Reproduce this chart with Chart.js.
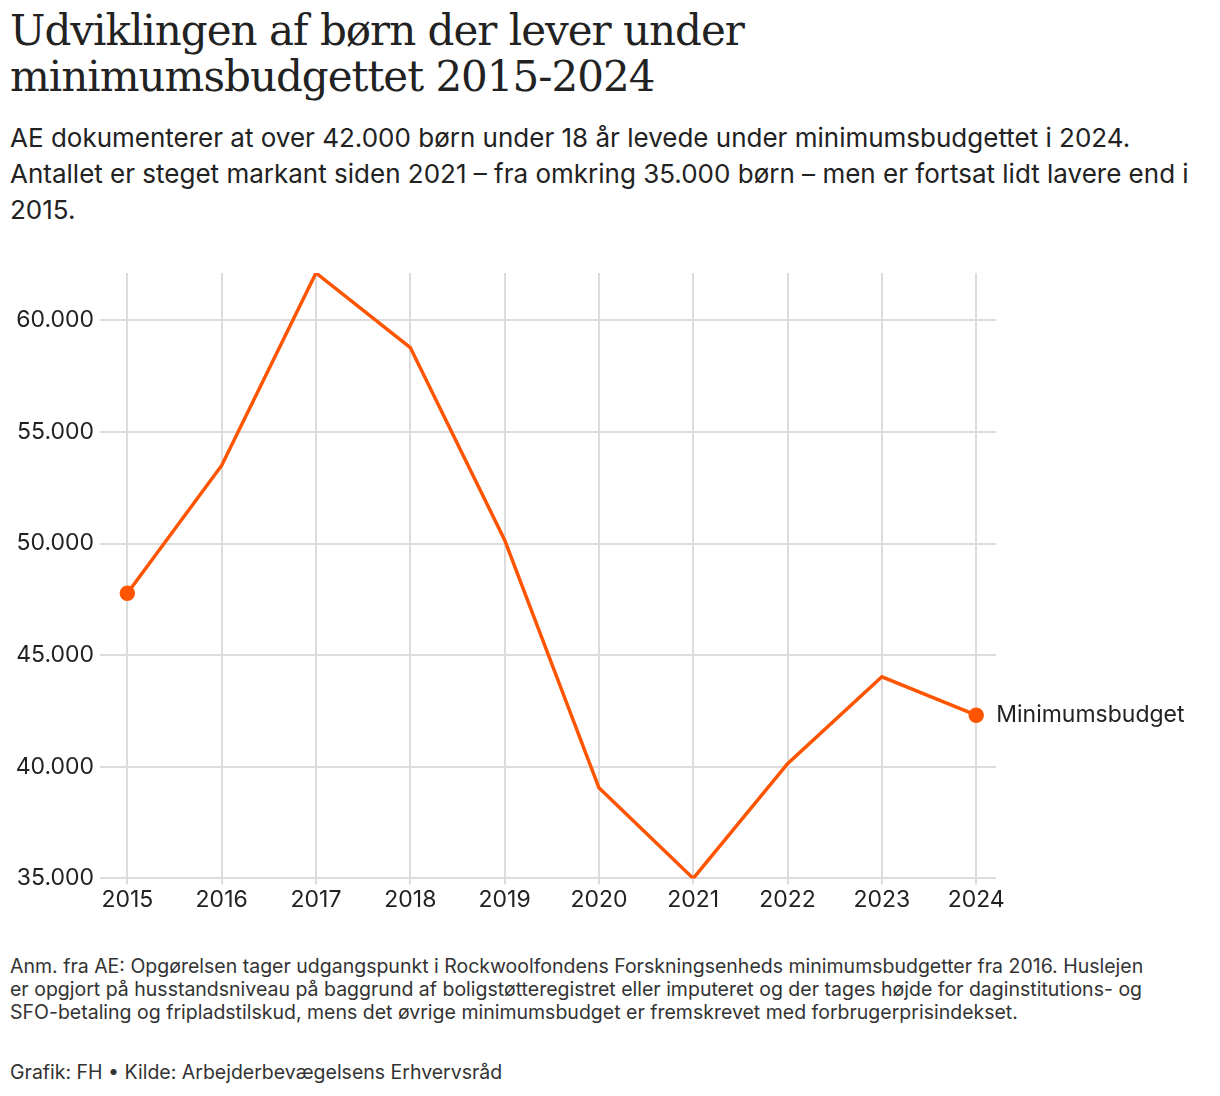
<!DOCTYPE html>
<html>
<head>
<meta charset="utf-8">
<script src="https://cdn.jsdelivr.net/npm/chart.js@4"></script>
<style>
  body { margin: 0; width: 1220px; height: 1096px; background: #fff; font-family: Inter, "Noto Sans", sans-serif; color: #222; }
  h1 { font-family: "DejaVu Serif", serif; font-weight: normal; font-size: 42px; line-height: 46px; margin: 0; position: absolute; left: 10px; top: 8px; letter-spacing: -1px; }
  .sub { position: absolute; left: 10px; top: 120px; font-size: 26px; line-height: 36px; width: 1200px; }
  .wrap { position: absolute; left: 0; top: 250px; width: 1220px; height: 666px; }
  .note { position: absolute; left: 10px; top: 955px; font-size: 19.5px; line-height: 23px; width: 1150px; color: #333; }
  .credit { position: absolute; left: 10px; top: 1060px; font-size: 19.5px; color: #333; }
</style>
</head>
<body>
<h1>Udviklingen af børn der lever under<br>minimumsbudgettet 2015-2024</h1>
<div class="sub">AE dokumenterer at over 42.000 børn under 18 år levede under minimumsbudgettet i 2024. Antallet er steget markant siden 2021 – fra omkring 35.000 børn – men er fortsat lidt lavere end i 2015.</div>
<div class="wrap"><canvas id="c"></canvas></div>
<div class="note">Anm. fra AE: Opgørelsen tager udgangspunkt i Rockwoolfondens Forskningsenheds minimumsbudgetter fra 2016. Huslejen er opgjort på husstandsniveau på baggrund af boligstøtteregistret eller imputeret og der tages højde for daginstitutions- og SFO-betaling og fripladstilskud, mens det øvrige minimumsbudget er fremskrevet med forbrugerprisindekset.</div>
<div class="credit">Grafik: FH • Kilde: Arbejderbevægelsens Erhvervsråd</div>
<script>
const aar = [2015, 2016, 2017, 2018, 2019, 2020, 2021, 2022, 2023, 2024];
const boern = [47770, 53500, 62120, 58780, 50160, 39060, 35000, 40140, 44030, 42310];
const serieNavn = "Minimumsbudget";
const farve = "#ff5400";

const slutEtiket = {
  id: "slutEtiket",
  afterDatasetsDraw(chart) {
    const meta = chart.getDatasetMeta(0);
    const p = meta.data[meta.data.length - 1];
    const ctx = chart.ctx;
    ctx.save();
    ctx.font = "23px Inter, sans-serif";
    ctx.fillStyle = "#222";
    ctx.textBaseline = "middle";
    ctx.fillText(serieNavn, p.x + 20, p.y);
    ctx.restore();
  }
};

new Chart(document.getElementById("c"), {
  type: "line",
  data: {
    datasets: [{
      label: serieNavn,
      data: aar.map((a, i) => ({ x: a, y: boern[i] })),
      borderColor: farve,
      backgroundColor: farve,
      borderWidth: 3.5,
      pointRadius: aar.map((a, i) => (i === 0 || i === aar.length - 1) ? 6 : 0),
      tension: 0
    }]
  },
  options: {
    responsive: true,
    maintainAspectRatio: false,
    animation: false,
    layout: { padding: { top: 23, right: 224 } },
    plugins: { legend: { display: false }, tooltip: { enabled: false } },
    scales: {
      x: {
        type: "linear",
        min: 2014.71, max: 2024.21,
        afterBuildTicks(ax) { ax.ticks = aar.map(v => ({ value: v })); },
        ticks: { callback: v => String(v), font: { size: 23, family: "Inter" }, color: "#222", padding: 2, maxRotation: 0 },
        grid: { color: "#dcdcdc", lineWidth: 2, tickLength: 6 },
        border: { display: false }
      },
      y: {
        min: 35000, max: 62120,
        afterFit(ax) { ax.width = 100; },
        afterBuildTicks(ax) {
          const t = [];
          for (let v = 35000; v <= 60000; v += 5000) t.push({ value: v });
          ax.ticks = t;
        },
        ticks: { callback: v => v.toLocaleString("da-DK"), font: { size: 23, family: "Inter" }, color: "#222", padding: 6 },
        grid: { color: "#dcdcdc", lineWidth: 2, drawTicks: false },
        border: { display: false }
      }
    }
  },
  plugins: [slutEtiket]
});
</script>
</body>
</html>
